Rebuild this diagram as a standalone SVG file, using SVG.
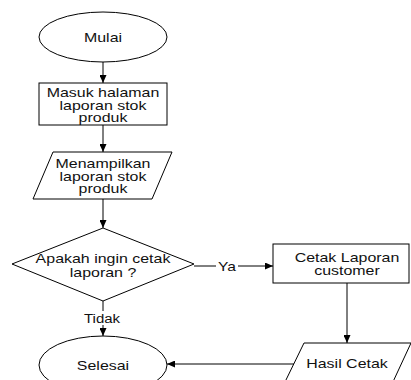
<svg xmlns="http://www.w3.org/2000/svg" width="411" height="380" viewBox="0 0 411 380">
<style>
.s{fill:#fff;stroke:#000;stroke-width:1}
.t{font-family:"Liberation Sans",Arial,sans-serif;font-size:12px;text-anchor:middle;fill:#111}
.c{stroke:#000;stroke-width:1;fill:none}
</style>
<defs>
<marker id="a" markerUnits="userSpaceOnUse" markerWidth="8" markerHeight="7" refX="8" refY="3.5" orient="auto"><path d="M0,0 L8,3.5 L0,7 z" fill="#000"/></marker>
</defs>
<rect width="411" height="380" fill="#fff"/>
<g id="connectors">
<line class="c" x1="103" y1="62" x2="103" y2="83" marker-end="url(#a)"/>
<line class="c" x1="103" y1="125" x2="103" y2="152" marker-end="url(#a)"/>
<line class="c" x1="103" y1="199" x2="103" y2="228" marker-end="url(#a)"/>
<line class="c" x1="103" y1="301" x2="103" y2="336" marker-end="url(#a)"/>
<line class="c" x1="194" y1="266" x2="273" y2="266" marker-end="url(#a)"/>
<line class="c" x1="347" y1="283" x2="347" y2="343" marker-end="url(#a)"/>
<line class="c" x1="294" y1="364" x2="167" y2="364" marker-end="url(#a)"/>
<rect x="86" y="311" width="32" height="14" fill="#fff"/>
<text class="t" transform="translate(102,323) scale(1.25,1)">Tidak</text>
<rect x="216" y="260" width="22" height="13" fill="#fff"/>
<text class="t" transform="translate(227,271) scale(1.3,1)">Ya</text>
</g>
<g id="mulai">
<ellipse class="s" cx="103" cy="37" rx="64" ry="25"/>
<text class="t" transform="translate(103,41.5) scale(1.33,1)">Mulai</text>
</g>
<g id="masuk">
<rect class="s" x="39" y="83" width="128" height="42"/>
<text class="t" transform="translate(103,97) scale(1.33,1)">Masuk halaman</text>
<text class="t" transform="translate(103,109.5) scale(1.33,1)">laporan stok</text>
<text class="t" transform="translate(103,122) scale(1.33,1)">produk</text>
</g>
<g id="menampilkan">
<polygon class="s" points="53,152 172,152 152,199 33,199"/>
<text class="t" transform="translate(103,167.5) scale(1.33,1)">Menampilkan</text>
<text class="t" transform="translate(103,180.5) scale(1.33,1)">laporan stok</text>
<text class="t" transform="translate(103,193) scale(1.33,1)">produk</text>
</g>
<g id="keputusan">
<polygon class="s" points="103,228 194,264 103,301 12,264"/>
<text class="t" transform="translate(103,263) scale(1.33,1)">Apakah ingin cetak</text>
<text class="t" transform="translate(103,276.5) scale(1.33,1)">laporan ?</text>
</g>
<g id="cetak">
<rect class="s" x="273" y="244" width="136" height="39"/>
<text class="t" transform="translate(347,262) scale(1.33,1)">Cetak Laporan</text>
<text class="t" transform="translate(347,275) scale(1.33,1)">customer</text>
</g>
<g id="hasil">
<polygon class="s" points="304,343 411,343 392,384 284,384"/>
<text class="t" transform="translate(347,368) scale(1.33,1)">Hasil Cetak</text>
</g>
<g id="selesai">
<ellipse class="s" cx="103" cy="365" rx="64" ry="29"/>
<text class="t" transform="translate(103,369.5) scale(1.33,1)">Selesai</text>
</g>
</svg>
